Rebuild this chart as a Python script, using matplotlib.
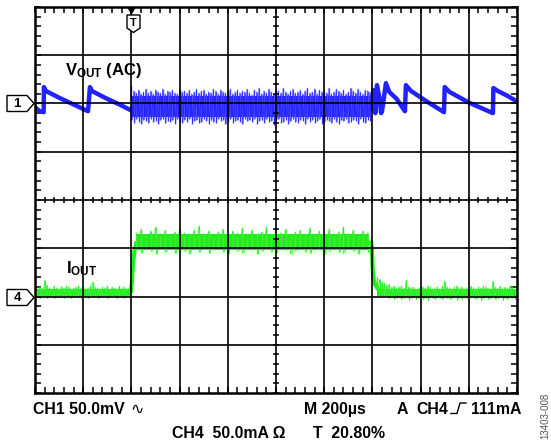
import numpy as np
import matplotlib
matplotlib.use('Agg')
import matplotlib.pyplot as plt
from matplotlib.patches import Polygon
from matplotlib.lines import Line2D
from matplotlib.transforms import Affine2D

W, H = 551, 444

# ---- scope settings ----
T_DIV = 200.0    # us / div
CH1_DIV = 50.0   # mV / div
CH4_DIV = 50.0   # mA / div
CH1_POS = 6.0    # ground marker position (div from bottom)
CH4_POS = 2.0
N_XDIV, N_YDIV = 10, 8

# ---- CH1: VOUT (AC), mV ----
vout_pre_t = [0, 20, 36, 37, 45, 100, 160, 220, 228, 236, 290, 350, 398]
vout_pre_v = [-4, -8, -9, 17, 13, 6, -1, -8, 17, 13, 6, -1, -7]

vout_noise_t0 = 400
vout_noise_step = 10
vout_noise_up = [18, 13, 11, 14, 10, 12, 15, 11, 13, 10, 14, 12, 11, 15, 10, 13, 12,
                 14, 11, 10, 15, 12, 13, 11, 14, 10, 12, 15, 11, 13, 14, 10, 12, 11,
                 15, 13, 10, 14, 12, 11, 13, 15, 10, 12, 14, 11, 13, 12, 15, 11,
                 9, 14, 12, 16, 10, 13, 11, 15, 12, 10, 14, 13, 11, 16, 12, 10, 13,
                 15, 11, 12, 14, 10, 13, 16, 11, 12, 15, 10, 14, 12, 13, 11, 16, 10,
                 12, 15, 13, 11, 14, 10, 12, 16, 13, 11, 15, 12, 10, 14, 13, 12]
vout_noise_lo = [-17, -20, -16, -19, -21, -17, -18, -20, -16, -19, -18, -21, -17, -16,
                 -20, -18, -19, -17, -21, -16, -18, -20, -17, -19, -16, -21, -18, -17,
                 -20, -19, -16, -18, -21, -17, -19, -20, -16, -18, -17, -21, -19, -16,
                 -20, -18, -17, -19, -21, -16, -18, -17,
                 -19, -16, -21, -18, -17, -20, -16, -19, -18, -22, -17, -16, -20, -19,
                 -17, -21, -18, -16, -19, -20, -17, -18, -21, -16, -19, -17, -20, -18,
                 -16, -21, -19, -17, -18, -20, -16, -19, -21, -17, -18, -16, -20, -19,
                 -17, -18, -21, -16, -19, -20, -17, -18]
vout_noise_core = (8, -14)

vout_post_t = [1398, 1405, 1412, 1419, 1430, 1436, 1440, 1456, 1470, 1500, 1535,
               1539, 1560, 1620, 1697, 1700, 1720, 1800, 1900, 1902, 1920, 1960, 2000]
vout_post_v = [-5, 14, -10, 19, 5, -10, -8, 21, 12, 5, -8,
               19, 13, 3, -9, 17, 12, 1, -10, 16, 13, 8, 2]

# ---- CH4: IOUT, mA ----
iout_a_t0, iout_a_step = 0, 10
iout_a_up = [9, 8, 10, 9, 17, 12, 9, 8, 11, 9, 8, 10, 9, 11, 10, 8, 9, 10, 11, 9,
             10, 8, 9, 11, 15, 10, 9, 8, 10, 9, 11, 8, 10, 9, 8, 11, 9, 10, 8, 9]
iout_a_lo = [-1, 0, -2, 1, -1, -2, 0, -1, -2, 0, -1, 1, -2, -1, 0, -2, -1, 0, -1, -2,
             0, -1, -2, 1, -1, 0, -2, -1, 0, -1, -2, 0, 1, -1, -2, 0, -1, -2, 0, -1]
iout_a_core = (8, 0)

iout_rise_t = [390, 398, 402, 406, 412, 420]
iout_rise_i = [4, 5, 15, 32, 46, 55]

iout_b_t0, iout_b_step = 420, 20
iout_b_up = [66, 70, 64, 68, 72, 65, 69, 63, 67, 71, 66, 64, 69, 73, 65, 68, 62, 67,
             70, 64, 68, 66, 71, 63, 69, 65, 67, 72, 64, 68, 66, 70, 63, 67, 69, 65,
             71, 64, 68, 66, 70, 63, 67, 72, 65, 69, 64, 68, 66]
iout_b_lo = [48, 45, 50, 47, 44, 49, 46, 51, 45, 48, 47, 44, 50, 46, 49, 45, 48, 51,
             46, 44, 49, 47, 45, 50, 48, 44, 47, 49, 46, 45, 51, 48, 44, 47, 50, 46,
             45, 49, 48, 44, 47, 50, 46, 45, 49, 47, 44, 48, 46]
iout_b_core = (65, 48)

iout_fall_t = [1395, 1398, 1401, 1405, 1412, 1420]
iout_fall_i = [56, 50, 30, 18, 12, 9]

iout_c_t0, iout_c_step = 1420, 10
iout_c_up = [20, 18, 15, 14, 12, 13, 10, 11, 9, 10, 11, 9, 17, 10, 9, 10, 8, 9, 11, 10,
             9, 11, 10, 8, 9, 10, 8, 11, 16, 10, 9, 8, 10, 11, 9, 10, 8, 9, 10, 11,
             9, 8, 10, 9, 11, 10, 9, 8, 16, 10, 9, 11, 8, 10, 9, 11, 10, 8, 9, 10]
iout_c_lo = [8, 6, 3, 2, 0, -2, -1, -3, -2, -1, -3, -2, -1, -4, -2, -1, -3, -2, -1, -3,
             -2, -4, -1, -2, -3, -1, -2, -3, -1, -2, -3, -2, -1, -4, -2, -3, -1, -2, -3,
             -1, -2, -3, -1, -4, -2, -1, -3, -2, -1, -3, -2, -1, -4, -2, -3, -1, -2, -3,
             -1, -2]
iout_c_core = (8, 0)

BLUE = '#2222ff'
BLUE_LT = '#5a5aff'
GREEN = '#22ec1e'
GREEN_LT = '#55f050'

plt.rcParams['mathtext.fontset'] = 'custom'
plt.rcParams['mathtext.bf'] = 'Liberation Sans:bold'
plt.rcParams['mathtext.rm'] = 'Liberation Sans'
plt.rcParams['font.family'] = ['Liberation Sans', 'DejaVu Sans']

fig = plt.figure(figsize=(W / 100, H / 100), dpi=100)
pix = Affine2D().scale(1 / W, -1 / H).translate(0, 1) + fig.transFigure

ax = fig.add_axes([35 / W, (H - 393) / H, 482 / W, 386 / H])
ax.set_xlim(0, N_XDIV * T_DIV)
ax.set_ylim(0, N_YDIV)


def v2d(v):
    return CH1_POS + np.asarray(v, float) / CH1_DIV


def i2d(i):
    return CH4_POS + np.asarray(i, float) / CH4_DIV


def noisy(t0, step, up, lo, core, conv, color, light):
    n = min(len(up), len(lo))
    t = t0 + step * np.arange(n)
    up = conv(up[:n]); lo = conv(lo[:n])
    ax.fill_between([t[0], t[-1]], conv(core[1]), conv(core[0]), color=color, lw=0,
                    zorder=3)
    ax.vlines(t, lo, up, color=light, lw=1.0, zorder=3)
    tz = np.empty(2 * n); tz[0::2] = t; tz[1::2] = t + step * 0.35
    vz = np.empty(2 * n); vz[0::2] = up; vz[1::2] = lo
    ax.plot(tz, vz, color=color, lw=0.6, alpha=0.8, zorder=3)


# VOUT
ax.plot(vout_pre_t, v2d(vout_pre_v), color=BLUE, lw=3.2, zorder=3)
noisy(vout_noise_t0, vout_noise_step, vout_noise_up, vout_noise_lo, vout_noise_core,
      v2d, BLUE, BLUE_LT)
ax.plot(vout_post_t, v2d(vout_post_v), color=BLUE, lw=3.2, zorder=3)

# IOUT
noisy(iout_a_t0, iout_a_step, iout_a_up, iout_a_lo, iout_a_core, i2d, GREEN, GREEN_LT)
ax.plot(iout_rise_t, i2d(iout_rise_i), color=GREEN, lw=3, zorder=3)
noisy(iout_b_t0, iout_b_step, iout_b_up, iout_b_lo, iout_b_core, i2d, GREEN, GREEN_LT)
ax.plot(iout_fall_t, i2d(iout_fall_i), color=GREEN, lw=3, zorder=3)
noisy(iout_c_t0, iout_c_step, iout_c_up, iout_c_lo, iout_c_core, i2d, GREEN, GREEN_LT)

# grid
for k in range(1, N_XDIV):
    ax.axvline(k * T_DIV, color='black', lw=1.2, zorder=5)
for k in range(1, N_YDIV):
    ax.axhline(k, color='black', lw=1.2, zorder=5)

# border ticks
ax.set_xticks([])
ax.set_yticks([])
xminor = np.arange(0, N_XDIV * T_DIV + 1, T_DIV / 5)
yminor = np.arange(0, N_YDIV + 0.01, 0.2)
ax.set_xticks(xminor, minor=True)
ax.set_yticks(yminor, minor=True)
ax.tick_params(which='minor', direction='in', length=4.5, width=1.1, top=True,
               right=True, labelbottom=False, labelleft=False, color='black')
for s in ax.spines.values():
    s.set_linewidth(1.8)
    s.set_zorder(6)

# center cross ticks
ax.plot(xminor, np.full(len(xminor), N_YDIV / 2), ls='none', marker='|', ms=5,
        mew=1.1, color='black', zorder=6)
ax.plot(np.full(len(yminor), N_XDIV * T_DIV / 2), yminor, ls='none', marker='_', ms=5,
        mew=1.1, color='black', zorder=6)


def chan_marker(label, yc):
    pts = [(7, yc - 8), (27, yc - 8), (34, yc), (27, yc + 8), (7, yc + 8)]
    fig.patches.append(Polygon(pts, closed=True, fc='white', ec='black', lw=1.0,
                               transform=pix))
    fig.text(17, yc + 0.5, label, transform=pix, ha='center', va='center',
             fontsize=9.5, fontweight='bold')


chan_marker('1', 103.5)
chan_marker('4', 297.5)

# trigger marker
fig.patches.append(Polygon([(127.5, 7.5), (135.5, 7.5), (131.5, 14)], closed=True,
                           fc='black', ec='black', lw=0.5, transform=pix))
fig.patches.append(Polygon([(127, 15), (140, 15), (140, 28), (133.5, 32.5), (127, 28)],
                           closed=True, fc='white', ec='black', lw=1.0, transform=pix))
fig.text(133.5, 22.5, 'T', transform=pix, ha='center', va='center', fontsize=8,
         fontweight='bold')

# trace labels
fig.text(65, 75, r'$\mathbf{V_{OUT}}$ (AC)', transform=pix, ha='left',
         va='baseline', fontsize=12, fontweight='bold')
fig.text(66, 273, r'$\mathbf{I_{OUT}}$', transform=pix, ha='left',
         va='baseline', fontsize=12, fontweight='bold')

# status text
FS = 11.4
row1, row2 = 414, 438
fig.text(33, row1, 'CH1 50.0mV', transform=pix, fontsize=FS, fontweight='bold', va='baseline')
fig.text(130, row1, '\u223f', transform=pix, fontsize=FS, va='baseline',
         family=['DejaVu Sans'])
fig.text(304, row1, 'M 200µs', transform=pix, fontsize=FS, fontweight='bold', va='baseline')
fig.text(397, row1, 'A', transform=pix, fontsize=FS, fontweight='bold', va='baseline')
fig.text(416, row1, 'CH4', transform=pix, fontsize=FS, fontweight='bold', va='baseline')
fig.text(471, row1, '111mA', transform=pix, fontsize=FS, fontweight='bold', va='baseline')
fig.text(172, row2, 'CH4  50.0mA Ω', transform=pix, fontsize=FS, fontweight='bold', va='baseline')
fig.text(313, row2, 'T  20.80%', transform=pix, fontsize=FS, fontweight='bold', va='baseline')
fig.lines.append(Line2D([451, 457, 460, 466], [413.5, 413.5, 403, 403], color='black',
                        lw=1.0, transform=pix))
fig.text(545, 416, '13403-008', transform=pix, fontsize=7, color='#555555',
         rotation=90, ha='center', va='center')

fig.savefig('out.png', dpi=100)
